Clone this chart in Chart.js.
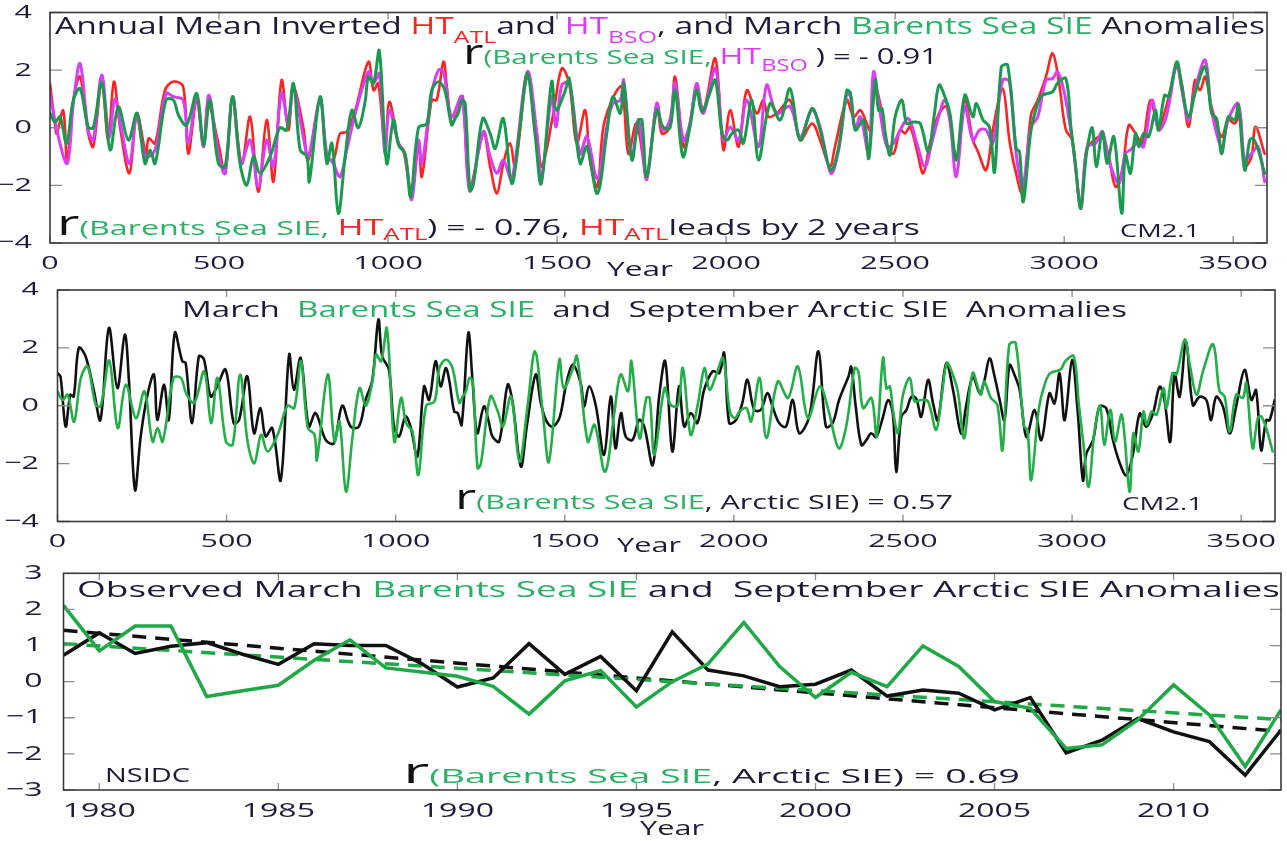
<!DOCTYPE html>
<html>
<head>
<meta charset="utf-8">
<title>Barents Sea SIE anomalies</title>
<script src="https://cdn.jsdelivr.net/npm/chart.js@4.4.1/dist/chart.umd.min.js"></script>
<style>
  html, body { margin: 0; padding: 0; background: #ffffff; }
  #figure { position: relative; width: 1287px; height: 841px; overflow: hidden; background: #ffffff; }
  #figure canvas { position: absolute; left: 0; }
</style>
</head>
<body>
<div id="figure">
  <canvas id="panelModelHT" width="1287" height="280" style="top:0px"></canvas>
  <canvas id="panelModelSIE" width="1287" height="280" style="top:280px"></canvas>
  <canvas id="panelObserved" width="1287" height="281" style="top:560px"></canvas>
</div>
<script>
// ---------- palette & lettering ----------
const FONT = '"Open Sans", "Noto Sans", "DejaVu Sans", sans-serif';
const INK = '#1c1c38';
const RED = '#ff2222';
const MAGENTA = '#d93df5';
const GREEN_HT = '#1a9a4e';
const GREEN_SIE = '#23ae47';
const GREEN_OBS = '#1fa846';
const GREEN_TEXT = '#2bb066';
const TICK_STRETCH = 1.6;   // the figure's lettering is set wide

// ---------- tick values ----------
const modelYearTicks = [0, 500, 1000, 1500, 2000, 2500, 3000, 3500];
const modelAnomalyTicks = [-4, -2, 0, 2, 4];
const obsYearTicks = [1980, 1985, 1990, 1995, 2000, 2005, 2010];
const obsAnomalyTicks = [-3, -2, -1, 0, 1, 2, 3];

// ---------- CM2.1: March Barents Sea SIE anomaly ----------
const sieYears = [
  0,15,30,49,69,89,113,128,153,178,
  202,232,257,281,296,311,343,365,380,404,
  434,454,473,498,518,540,562,582,602,621,
  651,680,700,720,740,760,767,799,819,834,
  853,873,893,912,932,942,957,974,996,1016,
  1031,1050,1067,1090,1115,1129,1149,1168,1188,1198,
  1208,1218,1228,1242,1252,1280,1302,1317,1341,1366,
  1390,1412,1435,1453,1484,1497,1523,1536,1568,1588,
  1619,1647,1665,1687,1697,1721,1741,1751,1765,1795,
  1813,1834,1849,1872,1893,1913,1928,1948,1968,1988,
  2003,2017,2037,2051,2076,2096,2130,2160,2189,2219,
  2254,2278,2310,2333,2357,2368,2382,2407,2422,2441,
  2451,2461,2471,2485,2500,2520,2534,2554,2574,2598,
  2615,2630,2647,2662,2681,2706,2730,2740,2760,2779,
  2794,2814,2833,2858,2868,2879,2902,2922,2936,2966,
  2980,3005,3020,3034,3049,3066,3083,3095,3113,3127,
  3147,3170,3181,3196,3211,3221,3235,3250,3270,3279,
  3297,3309,3333,3348,3368,3387,3417,3436,3451,3466,
  3485,3505,3515,3534,3549,3559,3574,3593
];
const sieValues = [
  0.5,0.2,0.38,-0.55,0.96,1.36,0.03,0.0,1.56,-0.77,
  0.73,-0.43,0.5,-1.24,-0.77,-1.24,0.96,0.96,0.44,0.09,
  1.19,-0.6,0.96,-1.24,-1.35,1.08,-1.24,-1.99,-1.0,-1.58,
  -1.0,0.0,-0.08,1.54,-0.77,-1.0,-1.87,1.08,-1.24,-0.54,
  -2.97,-1.0,0.61,0.0,0.9,1.77,1.54,2.67,-1.24,0.27,
  -0.6,-0.9,-2.39,0.0,0.15,1.3,1.6,1.3,0.1,0.32,
  0.5,0.96,0.84,-2.16,-1.99,0.32,-0.2,-0.72,0.32,-1.94,
  0.0,1.88,-0.25,-1.94,1.6,0.61,1.25,1.71,-1.24,-0.66,
  -2.28,-0.2,1.08,0.5,1.54,-1.12,0.27,0.27,-1.7,0.61,
  0.03,0.0,1.3,-1.0,0.03,1.3,0.55,1.08,1.65,-0.2,
  -0.43,-0.2,-0.08,-0.54,0.96,-1.12,0.84,0.27,1.36,-0.43,
  0.67,-0.08,-1.47,-0.66,1.3,1.19,-0.08,0.27,-1.06,1.65,
  0.6,0.67,-0.2,-0.95,0.38,0.96,0.15,0.2,0.15,-0.83,
  0.38,1.48,1.08,0.5,-1.12,1.13,0.38,0.84,0.27,0.03,
  -1.53,2.1,2.17,-0.72,-0.83,-2.57,-0.08,0.84,1.13,1.25,
  1.54,1.71,0.03,-1.35,-2.8,-0.9,0.0,-1.35,-0.14,-1.24,
  -0.31,-2.97,-0.95,-1.58,-0.2,-0.66,-0.2,-0.31,0.61,-0.08,
  1.13,1.08,2.29,1.42,0.38,1.19,2.12,0.5,0.32,-0.9,
  0.38,0.27,0.79,-1.47,-0.43,-0.37,-0.77,-1.58
];

// ---------- CM2.1: inverted Atlantic heat transport (HT_ATL) ----------
const htAtlYears = [
  0,15,20,39,51,69,89,113,128,153,
  172,189,207,235,257,284,292,311,340,365,
  394,409,434,454,468,498,518,540,567,592,
  616,641,661,685,705,720,749,764,799,819,
  838,858,878,903,942,957,971,991,1004,1031,
  1045,1070,1090,1100,1129,1144,1164,1174,1188,1208,
  1221,1242,1282,1302,1322,1341,1361,1376,1412,1440,
  1455,1489,1514,1536,1558,1583,1597,1619,1637,1667,
  1691,1711,1735,1765,1795,1810,1834,1849,1874,1893,
  1913,1933,1968,1992,2012,2037,2061,2091,2110,2125,
  2150,2189,2219,2254,2278,2307,2322,2357,2377,2397,
  2412,2426,2441,2461,2476,2495,2515,2529,2544,2564,
  2583,2603,2628,2652,2681,2706,2730,2745,2769,2789,
  2818,2838,2853,2877,2902,2922,2946,2966,2985,3005,
  3024,3049,3066,3088,3113,3132,3152,3172,3191,3211,
  3231,3255,3279,3299,3314,3333,3348,3368,3387,3402,
  3417,3436,3466,3485,3505,3520,3534,3554,3566,3593
];
const htAtlValues = [
  1.54,0.1,-0.2,0.6,-1.15,0.95,1.77,-0.2,-0.66,1.6,
  -0.43,1.6,0.03,-1.58,0.5,-0.9,-0.37,-0.54,1.3,1.6,
  1.42,-0.9,0.96,-0.66,0.84,-0.54,-1.58,1.08,-1.24,0.38,
  -2.22,0.27,-1.87,1.65,-0.08,1.42,0.03,-1.12,0.96,-1.0,
  -1.12,-0.2,-0.14,0.61,2.29,1.3,1.54,-0.66,0.9,-0.54,
  -0.77,-2.28,-0.54,-1.7,0.96,0.96,2.29,1.42,0.15,0.61,
  1.08,-2.05,-0.2,-1.35,-2.28,-1.24,-0.54,-1.35,1.77,-0.2,
  -1.35,0.5,2.06,1.54,-0.54,0.61,-1.12,-2.05,0.03,1.08,
  1.42,-0.9,0.15,-1.58,0.84,-0.2,0.03,1.77,-0.66,0.15,
  1.42,0.61,2.4,-0.77,0.61,-0.66,1.3,0.5,0.96,0.38,
  0.5,0.96,-0.43,0.15,-0.43,-1.35,-0.66,0.96,0.38,0.61,
  0.27,-0.08,1.42,0.5,-0.66,-0.9,-0.08,-0.2,0.03,-0.77,
  -1.58,-0.54,0.44,0.73,-1.0,0.96,-0.43,-0.83,-1.47,-0.08,
  1.36,-0.43,-1.35,-2.28,0.44,0.96,1.77,2.58,1.54,-0.08,
  -0.43,-2.8,-0.77,-0.43,-0.31,-1.0,-2.05,-1.47,0.09,-0.2,
  -0.54,0.96,0.03,0.61,1.3,2.12,1.54,0.03,1.65,1.3,
  1.77,0.73,-0.31,0.27,0.15,0.5,-1.35,-1.0,0.03,-0.9
];

// ---------- CM2.1: inverted Barents Sea Opening heat transport (HT_BSO) ----------
const htBsoYears = [
  0,20,51,69,89,113,128,153,175,192,
  210,235,257,283,311,343,365,394,409,434,
  454,470,498,518,540,565,592,616,641,661,
  685,705,720,749,764,799,819,838,858,878,
  903,942,957,974,991,1004,1031,1050,1070,1090,
  1100,1129,1149,1164,1188,1218,1242,1282,1302,1322,
  1341,1366,1412,1440,1453,1484,1497,1514,1536,1568,
  1588,1619,1647,1665,1687,1697,1721,1741,1765,1795,
  1813,1834,1849,1874,1893,1913,1933,1968,1992,2012,
  2037,2061,2096,2120,2150,2189,2219,2254,2278,2310,
  2333,2357,2368,2382,2397,2422,2436,2456,2476,2495,
  2515,2539,2564,2588,2608,2630,2647,2662,2681,2706,
  2730,2750,2769,2789,2818,2838,2858,2877,2902,2922,
  2946,2966,2980,2999,3024,3049,3068,3093,3113,3132,
  3162,3181,3196,3216,3235,3260,3279,3299,3314,3333,
  3348,3368,3387,3417,3436,3466,3485,3515,3534,3554,
  3574,3593
];
const htBsoValues = [
  1.2,-0.08,-1.24,0.84,2.23,-0.08,-0.43,1.83,-0.31,1.0,
  0.03,-1.24,0.38,-1.0,-0.77,1.19,1.08,0.96,-0.54,1.08,
  -0.66,1.13,-0.9,-1.58,1.08,-1.24,-0.43,-2.05,-0.43,-1.35,
  1.19,0.15,1.42,-0.31,-1.0,0.96,-0.9,-1.24,-1.7,-0.77,
  0.5,1.94,1.54,1.88,-0.9,0.61,-0.54,-0.9,-2.5,-0.43,
  -1.24,1.19,2.0,1.94,0.38,1.08,-2.2,-0.14,-1.0,-1.58,
  -1.12,-1.8,1.94,-0.2,-1.8,1.08,0.03,1.48,1.54,-0.9,
  -0.31,-1.76,0.03,0.84,0.96,1.65,-1.0,0.27,-1.8,0.84,
  -0.08,0.27,1.54,-0.43,0.15,1.54,0.5,2.06,-0.43,0.03,
  -0.43,0.96,-0.66,1.48,0.5,0.73,-0.31,0.61,0.03,-1.58,
  -0.77,1.19,1.08,-0.03,0.38,-0.9,1.94,0.5,-0.66,-0.54,
  -0.08,0.32,-0.54,-1.35,-0.54,0.44,0.96,0.27,-1.7,0.73,
  -0.43,-0.08,-0.08,-0.54,1.65,1.6,-0.9,-2.05,0.03,0.38,
  1.65,1.71,1.94,1.3,-0.43,-2.6,-0.66,-0.54,-0.14,-1.12,
  -1.93,-0.9,-0.77,-0.54,-0.66,0.96,-0.08,0.27,1.08,2.23,
  1.3,0.27,1.3,2.35,0.61,-0.66,0.27,0.84,-1.12,-0.9,
  -0.66,-1.87
];

// ---------- CM2.1: September Arctic SIE anomaly ----------
const arcticYears = [
  0,9,24,38,48,63,83,107,127,152,
  177,199,211,229,246,265,285,295,315,329,
  347,369,379,398,418,433,453,472,497,521,
  537,561,581,600,615,635,660,685,699,719,
  743,763,793,817,842,867,891,911,931,949,
  960,980,995,1010,1029,1044,1064,1084,1099,1118,
  1133,1148,1158,1173,1183,1195,1215,1227,1241,1261,
  1276,1286,1306,1331,1346,1370,1389,1414,1429,1444,
  1463,1484,1503,1523,1547,1557,1572,1592,1616,1636,
  1650,1666,1680,1700,1720,1735,1760,1779,1797,1818,
  1838,1853,1873,1892,1912,1937,1957,1971,1986,2006,
  2025,2040,2060,2080,2099,2114,2134,2154,2174,2193,
  2223,2250,2272,2292,2311,2339,2347,2360,2377,2392,
  2406,2421,2441,2456,2470,2480,2495,2510,2525,2539,
  2554,2574,2589,2603,2628,2648,2672,2687,2707,2727,
  2741,2756,2771,2786,2800,2815,2830,2845,2865,2889,
  2909,2933,2948,2963,2978,3000,3017,3032,3042,3062,
  3081,3101,3121,3140,3160,3180,3200,3219,3239,3259,
  3273,3290,3303,3318,3337,3357,3377,3397,3411,3426,
  3446,3466,3485,3510,3530,3544,3559,3574,3584,3599
];
const arcticValues = [
  1.13,1.0,-0.72,0.38,0.32,2.0,1.71,0.55,-0.49,2.69,
  0.61,2.46,0.9,-2.91,-1.06,0.32,1.08,-0.49,0.73,-0.49,
  2.52,1.54,1.48,-0.6,1.71,1.6,0.32,0.67,1.25,-0.6,
  -0.49,1.02,-0.95,-0.08,-1.06,-0.77,-2.57,1.77,0.55,1.65,
  -0.72,-0.25,-1.18,-1.3,0.0,-0.72,-0.72,0.2,0.9,2.98,
  1.71,1.25,-0.72,-1.06,-0.37,-0.72,-1.76,0.67,0.2,1.54,
  0.67,1.3,0.9,-0.2,-0.25,-0.66,2.52,0.9,-0.95,-0.02,
  -0.6,-1.06,-1.24,0.73,0.1,-2.1,-0.6,1.08,0.1,-0.49,
  -0.72,-0.43,0.67,1.42,0.78,-0.02,0.67,-0.02,-1.7,0.32,
  -1.47,-0.25,-1.06,-1.18,-0.49,-0.72,-2.05,0.32,1.54,-1.58,
  0.67,-0.72,-0.25,-0.6,0.55,1.19,1.13,1.83,-0.6,-0.49,
  0.1,0.9,-0.14,-0.14,0.44,-0.02,-0.6,-0.72,0.2,-0.95,
  -0.37,1.88,-0.72,-0.6,0.2,1.02,1.35,0.0,-1.36,-1.18,
  -0.95,-1.08,-0.38,0.2,-0.27,-2.29,-0.38,-0.15,0.31,0.25,
  -0.38,0.89,0.08,-0.5,1.47,0.54,-0.96,0.02,1.0,0.43,
  0.89,1.64,1.0,0.2,-0.5,1.41,1.06,0.54,-1.08,-0.15,
  -1.19,0.43,0.08,1.12,-0.5,1.58,-0.27,-2.58,-1.66,-1.19,
  -0.03,-0.09,-1.19,-1.95,-2.4,-1.66,-0.27,-0.73,-0.27,0.66,
  0.2,-1.25,1.12,0.31,2.22,0.02,0.31,0.2,-0.5,0.31,
  -0.03,-0.96,-0.03,1.24,0.2,0.54,-1.54,-0.5,-0.5,0.2
];

// ---------- NSIDC observations, 1979-2013 ----------
const obsYears = [
  1979,1980,1981,1982,1983,1984,1985,1986,1987,1988,
  1989,1990,1991,1992,1993,1994,1995,1996,1997,1998,
  1999,2000,2001,2002,2003,2004,2005,2006,2007,2008,
  2009,2010,2011,2012,2013
];
const obsBarents = [
  2.11,0.85,1.54,1.54,-0.41,-0.25,-0.10,0.59,1.16,0.38,
  0.27,0.15,-0.13,-0.90,0.02,0.31,-0.70,0.0,0.49,1.64,
  0.42,-0.44,0.26,-0.14,0.99,0.42,-0.55,-0.74,-1.85,-1.75,
  -1.06,-0.09,-0.92,-2.35,-0.78
];
const obsArctic = [
  0.73,1.35,0.78,0.98,1.08,0.76,0.48,1.05,1.0,1.0,
  0.5,-0.15,0.1,1.05,0.2,0.7,-0.25,1.38,0.32,0.16,
  -0.14,-0.07,0.32,-0.40,-0.23,-0.32,-0.78,-0.44,-1.97,-1.62,
  -1.02,-1.39,-1.66,-2.59,-1.34
];
// linear trends (end points)
const trendYears = [1979, 2013];
const barentsTrend = [1.05, -1.05];
const arcticTrend = [1.42, -1.38];

// ---------- helpers ----------
const pts = (xs, ys) => xs.map((x, i) => ({ x, y: ys[i] }));
const fmtTick = v => (v < 0 ? '\u2212' + Math.abs(v) : String(v));
const plainFillText = CanvasRenderingContext2D.prototype.fillText;

// axis numbers drawn wide, like the rest of the lettering
const wideTickLabels = {
  id: 'wideTickLabels',
  beforeInit(chart) {
    chart.ctx.fillText = function (text, x, y) {
      this.save();
      this.translate(x, y);
      this.scale(TICK_STRETCH, 1);
      plainFillText.call(this, text, 0, 0);
      this.restore();
    };
  }
};

// box frame with inward tick marks on all four sides
function boxFrame(xLen, yLen) {
  return {
    id: 'boxFrame',
    afterDatasetsDraw(chart) {
      const { ctx, chartArea: a, scales: { x, y } } = chart;
      ctx.save();
      ctx.strokeStyle = '#8c8c8c';
      ctx.lineWidth = 1.3;
      ctx.beginPath();
      x.ticks.forEach(t => {
        const px = x.getPixelForValue(t.value);
        ctx.moveTo(px, a.top); ctx.lineTo(px, a.top + xLen);
        ctx.moveTo(px, a.bottom); ctx.lineTo(px, a.bottom - xLen);
      });
      y.ticks.forEach(t => {
        const py = y.getPixelForValue(t.value);
        ctx.moveTo(a.left, py); ctx.lineTo(a.left + yLen, py);
        ctx.moveTo(a.right, py); ctx.lineTo(a.right - yLen, py);
      });
      ctx.stroke();
      ctx.strokeStyle = '#3a3a3a';
      ctx.lineWidth = 1.6;
      ctx.strokeRect(a.left, a.top, a.right - a.left, a.bottom - a.top);
      ctx.restore();
    }
  };
}

// multi-coloured text lines with subscripts, fitted to a given width
function noteLayer(lines) {
  return {
    id: 'noteLayer',
    afterDraw(chart) {
      const ctx = chart.ctx;
      lines.forEach(line => {
        let total = 0;
        const widths = line.parts.map(p => {
          ctx.font = `${p.s}px ${FONT}`;
          const w = ctx.measureText(p.t).width;
          total += w;
          return w;
        });
        const sx = line.w / total;
        let cx = line.x;
        line.parts.forEach((p, i) => {
          ctx.save();
          ctx.font = `${p.s}px ${FONT}`;
          ctx.fillStyle = p.c;
          ctx.textAlign = 'left';
          ctx.textBaseline = 'alphabetic';
          ctx.translate(cx, line.y + (p.dy || 0));
          ctx.scale(sx, 1);
          plainFillText.call(ctx, p.t, 0, 0);
          ctx.restore();
          cx += widths[i] * sx;
        });
      });
    }
  };
}

function panel(canvasId, cfg) {
  const cv = document.getElementById(canvasId);
  const W = cv.width, H = cv.height, f = cfg.frame;
  const tickFont = { family: FONT, size: cfg.tickSize, lineHeight: 1 };
  return new Chart(cv, {
    type: 'line',
    data: { datasets: cfg.datasets },
    options: {
      responsive: false,
      animation: false,
      devicePixelRatio: 1,
      events: [],
      layout: { padding: { left: 0, top: f.top, right: W - f.right, bottom: 0 } },
      plugins: { legend: { display: false }, tooltip: { enabled: false } },
      elements: { point: { radius: 0 } },
      scales: {
        x: {
          type: 'linear', min: cfg.x.min, max: cfg.x.max,
          afterBuildTicks: s => { s.ticks = cfg.x.ticks.map(v => ({ value: v })); },
          afterFit: s => { s.height = H - f.bottom; s.paddingLeft = 0; s.paddingRight = 0; },
          grid: { display: false }, border: { display: false },
          ticks: { autoSkip: false, maxRotation: 0, minRotation: 0, padding: cfg.x.pad,
                   color: INK, font: tickFont, callback: v => fmtTick(v) }
        },
        y: {
          type: 'linear', min: cfg.y.min, max: cfg.y.max,
          afterBuildTicks: s => { s.ticks = cfg.y.ticks.map(v => ({ value: v })); },
          afterFit: s => { s.width = f.left; s.paddingTop = 0; s.paddingBottom = 0; },
          grid: { display: false }, border: { display: false },
          ticks: { autoSkip: false, padding: cfg.y.pad, color: INK, font: tickFont,
                   callback: v => fmtTick(v) }
        }
      }
    },
    plugins: [wideTickLabels, boxFrame(cfg.xTickLen, cfg.yTickLen), noteLayer(cfg.notes)]
  });
}

// filtered model series are drawn as smooth curves
const smooth = { tension: 0.35, borderJoinStyle: 'round', borderCapStyle: 'round', fill: false };

// ---------- panel 1: inverted heat transports and March Barents Sea SIE ----------
panel('panelModelHT', {
  frame: { left: 50, right: 1267, top: 12.5, bottom: 243 },
  tickSize: 19, xTickLen: 7, yTickLen: 12,
  x: { min: 0, max: 3600, ticks: modelYearTicks, pad: 3 },
  y: { min: -4, max: 4, ticks: modelAnomalyTicks, pad: 10 },
  datasets: [
    { ...smooth, data: pts(sieYears, sieValues), borderColor: GREEN_HT, borderWidth: 3 },
    { ...smooth, data: pts(htBsoYears, htBsoValues), borderColor: MAGENTA, borderWidth: 3 },
    { ...smooth, data: pts(htAtlYears, htAtlValues), borderColor: RED, borderWidth: 2.6 }
  ],
  notes: [
    { x: 55, y: 34, w: 1210, parts: [
      { t: 'Annual Mean Inverted ', c: INK, s: 23 },
      { t: 'HT', c: RED, s: 23 },
      { t: 'ATL', c: RED, s: 17, dy: 9 },
      { t: 'and ', c: INK, s: 23 },
      { t: 'HT', c: MAGENTA, s: 23 },
      { t: 'BSO', c: MAGENTA, s: 17, dy: 9 },
      { t: ', and March ', c: INK, s: 23 },
      { t: 'Barents Sea SIE', c: GREEN_TEXT, s: 23 },
      { t: ' Anomalies', c: INK, s: 23 } ] },
    { x: 463, y: 64, w: 475, parts: [
      { t: 'r', c: '#111111', s: 34 },
      { t: '(Barents Sea SIE, ', c: GREEN_TEXT, s: 20 },
      { t: 'HT', c: MAGENTA, s: 22 },
      { t: 'BSO', c: MAGENTA, s: 16, dy: 7 },
      { t: ' ) = - 0.91', c: INK, s: 21 } ] },
    { x: 57, y: 235, w: 863, parts: [
      { t: 'r', c: '#111111', s: 34 },
      { t: '(Barents Sea SIE, ', c: GREEN_TEXT, s: 20 },
      { t: 'HT', c: RED, s: 22 },
      { t: 'ATL', c: RED, s: 16, dy: 5 },
      { t: ') = - 0.76, ', c: INK, s: 21 },
      { t: 'HT', c: RED, s: 22 },
      { t: 'ATL', c: RED, s: 16, dy: 5 },
      { t: 'leads by 2 years', c: INK, s: 21 } ] },
    { x: 1120, y: 237, w: 80, parts: [{ t: 'CM2.1', c: INK, s: 19 }] },
    { x: 607, y: 276, w: 66, parts: [{ t: 'Year', c: INK, s: 20 }] }
  ]
});

// ---------- panel 2: March Barents Sea SIE and September Arctic SIE (model) ----------
panel('panelModelSIE', {
  frame: { left: 57.5, right: 1275, top: 10, bottom: 241.5 },
  tickSize: 19, xTickLen: 7, yTickLen: 12,
  x: { min: 0, max: 3600, ticks: modelYearTicks, pad: 3 },
  y: { min: -4, max: 4, ticks: modelAnomalyTicks, pad: 10.5 },
  datasets: [
    { ...smooth, data: pts(sieYears, sieValues), borderColor: GREEN_SIE, borderWidth: 2.6 },
    { ...smooth, data: pts(arcticYears, arcticValues), borderColor: '#111111', borderWidth: 2.6 }
  ],
  notes: [
    { x: 182, y: 37, w: 945, parts: [
      { t: 'March  ', c: INK, s: 21 },
      { t: 'Barents Sea SIE', c: GREEN_TEXT, s: 21 },
      { t: '  and  September Arctic SIE  Anomalies', c: INK, s: 21 } ] },
    { x: 455, y: 229, w: 498, parts: [
      { t: 'r', c: '#111111', s: 34 },
      { t: '(Barents Sea SIE', c: GREEN_TEXT, s: 20 },
      { t: ', Arctic SIE) = 0.57', c: INK, s: 20 } ] },
    { x: 1122, y: 230, w: 81, parts: [{ t: 'CM2.1', c: INK, s: 19 }] },
    { x: 617, y: 272, w: 64, parts: [{ t: 'Year', c: INK, s: 20 }] }
  ]
});

// ---------- panel 3: observed anomalies with linear trends ----------
panel('panelObserved', {
  frame: { left: 63.5, right: 1281, top: 13.3, bottom: 230 },
  tickSize: 20, xTickLen: 7, yTickLen: 11,
  x: { min: 1979, max: 2013, ticks: obsYearTicks, pad: 3 },
  y: { min: -3, max: 3, ticks: obsAnomalyTicks, pad: 13 },
  datasets: [
    { data: pts(obsYears, obsBarents), borderColor: GREEN_OBS, borderWidth: 3.5, tension: 0, fill: false, borderJoinStyle: 'miter' },
    { data: pts(obsYears, obsArctic), borderColor: '#111111', borderWidth: 3.5, tension: 0, fill: false, borderJoinStyle: 'miter' },
    { data: pts(trendYears, barentsTrend), borderColor: GREEN_OBS, borderWidth: 3.5, borderDash: [14, 9], fill: false },
    { data: pts(trendYears, arcticTrend), borderColor: '#111111', borderWidth: 3.5, borderDash: [14, 9], fill: false }
  ],
  notes: [
    { x: 77, y: 37, w: 1203, parts: [
      { t: 'Observed March ', c: INK, s: 21 },
      { t: 'Barents Sea SIE', c: GREEN_TEXT, s: 21 },
      { t: ' and  September Arctic SIE Anomalies', c: INK, s: 21 } ] },
    { x: 105, y: 222, w: 85, parts: [{ t: 'NSIDC', c: INK, s: 20 }] },
    { x: 403, y: 223, w: 617, parts: [
      { t: 'r', c: '#111111', s: 34 },
      { t: '(Barents Sea SIE', c: GREEN_TEXT, s: 20 },
      { t: ', Arctic SIE) = 0.69', c: INK, s: 20 } ] },
    { x: 640, y: 275, w: 64, parts: [{ t: 'Year', c: INK, s: 20 }] }
  ]
});
</script>
</body>
</html>
